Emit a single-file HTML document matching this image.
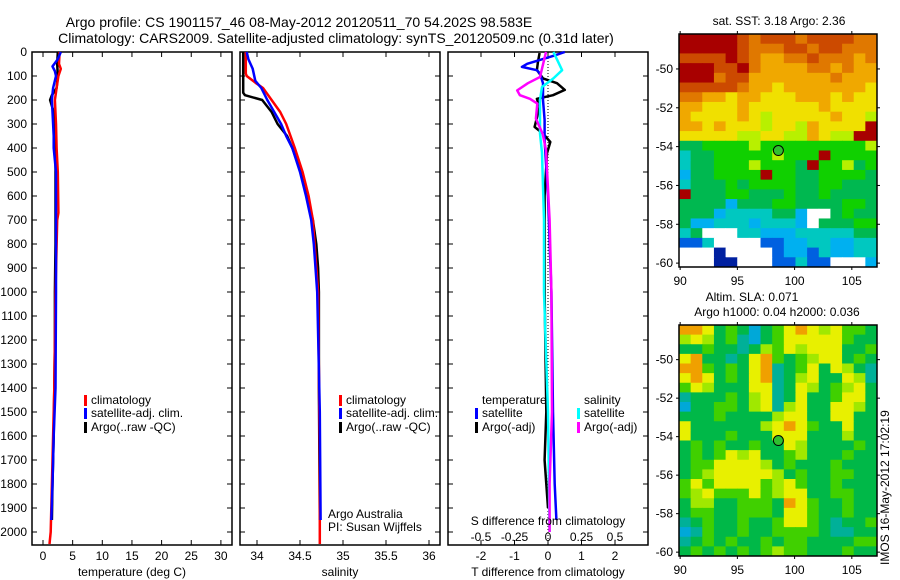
<!DOCTYPE html>
<html><head><meta charset="utf-8">
<style>
html,body{margin:0;padding:0;background:#fff;}
svg{display:block;font-family:"Liberation Sans",sans-serif;}
text{font-size:12px;fill:#000;}
</style></head>
<body>
<svg id="fig" width="900" height="580" viewBox="0 0 900 580" xmlns="http://www.w3.org/2000/svg">
<text x="299" y="27" text-anchor="middle" style="font-size:14px">Argo profile: CS 1901157_46 08-May-2012 20120511_70 54.202S 98.583E</text>
<text x="336" y="43" text-anchor="middle" style="font-size:14px">Climatology: CARS2009. Satellite-adjusted climatology: synTS_20120509.nc (0.31d later)</text>
<g id="g"></g>
</svg>
<script>
// ---- depth profile data ----
const tempClimD=[0,50,70,100,150,200,300,400,500,670,700,1000,1400,1700,2000,2050];
const tempClimV=[2.8,2.7,3.0,2.6,2.3,2.0,2.2,2.3,2.5,2.6,2.4,2.1,1.9,1.6,1.3,1.1];
const tempSatD=[0,30,60,80,100,150,200,250,350,400,500,1000,1400,1600,1800,1950];
const tempSatV=[3.0,2.5,1.6,2.0,2.2,1.7,1.5,1.6,1.8,1.8,2.2,2.2,2.1,1.8,1.6,1.4];
const tempArgoD=[0,50,100,150,180,200,250,300,350,400,500,600,800,1000,1200,1400,1600,1800,1950];
const tempArgoV=[2.5,2.4,2.5,2.3,1.5,1.2,1.8,1.8,2.0,2.1,2.1,2.1,2.1,2.0,2.0,1.9,1.8,1.6,1.5];
const salClimD=[0,90,100,130,150,200,250,300,400,500,600,700,800,1000,1700,2050];
const salClimV=[33.87,33.87,33.88,33.99,34.07,34.17,34.27,34.34,34.44,34.53,34.6,34.65,34.67,34.71,34.73,34.73];
const salSatD=[0,30,70,120,150,200,250,300,350,400,500,600,700,800,1000,1500,1950];
const salSatV=[33.88,33.9,33.95,33.98,34.05,34.12,34.2,34.28,34.34,34.41,34.5,34.57,34.63,34.66,34.7,34.73,34.74];
const salArgoD=[0,170,180,200,250,300,350,400,500,600,700,800,900,1000,1400,1950];
const salArgoV=[33.84,33.84,33.86,34.06,34.17,34.24,34.35,34.41,34.51,34.58,34.65,34.69,34.71,34.72,34.72,34.73];
const dTArgoD=[4,40,75,110,130,158,180,195,228,312,340,375,422,600,1000,1500,1700,1900];
const dTArgoV=[-0.25,-0.3,-0.33,-0.15,0.27,0.5,0.15,-0.33,-0.25,-0.4,-0.15,0.07,-0.03,-0.1,-0.1,-0.05,-0.1,0];
const dTSatD=[0,14,49,62,76,90,130,200,283,367,600,1000,1500,1800,1950];
const dTSatV=[0.5,0.2,-0.62,-0.78,-0.33,-0.24,-0.15,-0.15,-0.1,-0.1,0,0.1,0.15,0.2,0.25];
const dSSatD=[0,40,76,110,146,200,340,420,700,1000,1500,2000];
const dSSatV=[0.04,0.075,0.105,0.04,-0.045,-0.06,-0.06,-0.045,-0.03,-0.03,0,0.012];
const dSArgoD=[0,104,130,160,180,195,215,278,340,408,700,1000,1500,1800,2000];
const dSArgoV=[-0.015,-0.06,-0.15,-0.23,-0.21,-0.135,-0.08,-0.09,-0.04,-0.015,0.012,0.025,0.03,0.012,0.012];
const tempTicks=[0,5,10,15,20,25,30];
const salTicks=[34,34.5,35,35.5,36];
const tdTicks=[-2,-1,0,1,2];
const sdTicks=[-0.5,-0.25,0,0.25,0.5];
const depthTicks=[0,100,200,300,400,500,600,700,800,900,1000,1100,1200,1300,1400,1500,1600,1700,1800,1900,2000];
// ---- map data (rows from north to south, 0.5deg lat, 1deg lon) ----
const sstPalette={"0":"#a80000","1":"#cc4a00","2":"#e07800","3":"#f0a800","4":"#f0e000","5":"#b8f000","6":"#10d000","7":"#00b850","8":"#00c8c0","9":"#00b0f0","A":"#0060e0","B":"#0020a0","W":"#ffffff"};
const sstRows=["00000121112111122","00000122211211222","11110123322122232","00011023333223233","00021133333332333","11111233433333334","22334334443334344","33444344444434444","34444345444443445","33434445445344440","44444554455345500","77666656666666665","87766666566606666","87766656667066576","97766660667766667","87776766667766777","07776677767767777","77779777667777667","77798888779WW7677","79988898889W77766","87WWW889998888877","AA8WWWWAA99889988","WWWBWWWWA99A89988","WWWBBWWWAA8AAWWW9"];
const slaPalette={"O":"#f0a000","Y":"#e8f000","L":"#a0e800","G":"#40d000","D":"#00b848","T":"#00b098","C":"#00a8d8"};
const slaRows=["OOYDGDCDGYOYLYGGD","LYLDGTCDGYYYYYGDD","DDGDDTDLGYLYYYDDG","YODDTDYOGDGLYYDGD","OOGDGDYOTDGYDYLDT","YOYDGDYOTDLYDDYLT","GYLDDDYYTDYLDGLYD","TDDDGDLYTDYDDGYYD","CDDGGDLYTLYDDYYLD","DDDGDDDDLYYDDYYDD","YDDDDDDLYOYGDDYDD","YDDDGDDDYYYDDDLDD","DGDGDDGDDYLDDDDGD","DGDGYLYDDGLDDDGDD","DGGYYYYLDGDDDGDDD","DGLYYYYYLDGDDGGDD","GYGYYYYGLYGDDGDDD","GLYGGGYGLYYDDGGDD","DLLDDGGGDOYGDDGDD","DGGDDGGGDYYGDDGDD","TDGDDGDDGYYGDTDDG","CTGDDGDDGGGGDTTDD","TDGDGDDGDGGDDDDGG","DGDGDGDGLGGDDDGDD"];
const lonTicks=[90,95,100,105];
const latTicks=[-50,-52,-54,-56,-58,-60];
const argoLon=98.583, argoLat=-54.202;

const NS="http://www.w3.org/2000/svg";
const G=document.getElementById('g');
function el(tag,attrs,parent){const e=document.createElementNS(NS,tag);for(const k in attrs)e.setAttribute(k,attrs[k]);(parent||G).appendChild(e);return e;}
function txt(x,y,s,anchor,parent){const t=el('text',{x:x,y:y,'text-anchor':anchor||'start'},parent);t.textContent=s;return t;}
const yD=d=>52+d*0.24;
const xT=v=>43+v*5.93;
const xS=v=>257+(v-34)*86;
const xTd=v=>548+v*33.5;
const xSd=v=>548+v*134;

function panel(x0,name){
  const g=el('g',{});
  
  
  el('rect',{x:x0,y:52,width:200,height:493,fill:'none',stroke:'#000','stroke-width':1.5},g);
  depthTicks.forEach(d=>{const y=yD(d);
    el('line',{x1:x0,x2:x0+5,y1:y,y2:y,stroke:'#000'},g);
    el('line',{x1:x0+200,x2:x0+195,y1:y,y2:y,stroke:'#000'},g);});
  return g;
}
function xticks(g,ticks,fx,labY,fmt){
  ticks.forEach(v=>{const x=fx(v);
    el('line',{x1:x,x2:x,y1:545,y2:540,stroke:'#000'},g);
    el('line',{x1:x,x2:x,y1:52,y2:57,stroke:'#000'},g);
    if(labY){const t=txt(x,labY,fmt?fmt(v):String(v),'middle',g);}});
}
function line(g,D,V,fx,color,name,w){
  const pts=D.map((d,i)=>fx(V[i]).toFixed(1)+','+yD(d).toFixed(1)).join(' ');
  const p=el('polyline',{points:pts,fill:'none',stroke:color,'stroke-width':w||2.5,'stroke-linejoin':'round'},g);
  
  
}
function legendEntry(g,x,y,color,label){
  const e=el('g',{},g);
  
  
  el('rect',{x:x,y:y-9,width:3,height:11,fill:color},e);
  txt(x+7,y,label,'start',e);
}
depthTicks.forEach(d=>{const t=txt(27,yD(d)+4,String(d),'end');
  
  });

const p1=panel(32,'temperature-panel');
xticks(p1,tempTicks,xT,560);
line(p1,tempArgoD,tempArgoV,xT,'#000','argo-temperature-line');
line(p1,tempClimD,tempClimV,xT,'#f00','climatology-temperature-line');
line(p1,tempSatD,tempSatV,xT,'#00f','satellite-temperature-line');
legendEntry(p1,84,404,'#f00','climatology');
legendEntry(p1,84,417,'#00f','satellite-adj. clim.');
legendEntry(p1,84,431,'#000','Argo(..raw -QC)');
const a1=txt(132,576,'temperature (deg C)','middle');



const p2=panel(240,'salinity-panel');
xticks(p2,salTicks,xS,560);
line(p2,salArgoD,salArgoV,xS,'#000','argo-salinity-line');
line(p2,salClimD,salClimV,xS,'#f00','climatology-salinity-line');
line(p2,salSatD,salSatV,xS,'#00f','satellite-salinity-line');
legendEntry(p2,339,404,'#f00','climatology');
legendEntry(p2,339,417,'#00f','satellite-adj. clim.');
legendEntry(p2,339,431,'#000','Argo(..raw -QC)');
txt(328,518,'Argo Australia','start',p2);
txt(328,531,'PI: Susan Wijffels','start',p2);
const a2=txt(340,576,'salinity','middle');



const p3=panel(448,'difference-panel');
xticks(p3,tdTicks,xTd,560);
sdTicks.forEach(v=>{const t=txt(xSd(v),541,String(v),'middle',p3);
  
  });
el('line',{x1:548,x2:548,y1:52,y2:545,stroke:'#000','stroke-dasharray':'1,2'},p3);
line(p3,dTArgoD,dTArgoV,xTd,'#000','argo-t-diff-line');
line(p3,dTSatD,dTSatV,xTd,'#00f','satellite-t-diff-line');
line(p3,dSSatD,dSSatV,xSd,'#0ff','satellite-s-diff-line');
line(p3,dSArgoD,dSArgoV,xSd,'#f0f','argo-s-diff-line');
txt(482,404,'temperature','start',p3);
txt(584,404,'salinity','start',p3);
legendEntry(p3,475,417,'#00f','satellite');
legendEntry(p3,475,431,'#000','Argo(-adj)');
legendEntry(p3,577,417,'#0ff','satellite');
legendEntry(p3,577,431,'#f0f','Argo(-adj)');
txt(548,525,'S difference from climatology','middle',p3);
const a3=txt(548,576,'T difference from climatology','middle');



function map(top,bottom,rows,pal,name,labelY){
  const lonL=89.9, lonR=107.2, latT=-48.2, latB=-60.2;
  const W=198, H=bottom-top, x0=679;
  const fx=l=>x0+(l-lonL)/(lonR-lonL)*W;
  const fy=l=>top+(latT-l)/(latT-latB)*H;
  const g=el('g',{});
  
  
  const nr=rows.length;
  rows.forEach((r,i)=>{for(let j=0;j<r.length;j++){
    const la=latT-i*(latT-latB)/nr, lo=lonL+j*(lonR-lonL)/r.length;
    const x=fx(lo), y=fy(la), w=fx(lo+(lonR-lonL)/r.length)-x, h=fy(la-(latT-latB)/nr)-y;
    const c=el('rect',{x:x.toFixed(2),y:y.toFixed(2),width:(w+0.5).toFixed(2),height:(h+0.5).toFixed(2),fill:pal[r[j]]},g);
    
    
  }});
  el('rect',{x:x0,y:top,width:W,height:H,fill:'none',stroke:'#000','stroke-width':1.5},g);
  lonTicks.forEach(l=>{const x=fx(l);
    el('line',{x1:x,x2:x,y1:bottom,y2:bottom+3,stroke:'#000'},g);
    el('line',{x1:x,x2:x,y1:top,y2:top-3,stroke:'#000'},g);
    txt(x,labelY,String(l),'middle',g);});
  latTicks.forEach(l=>{const y=fy(l);
    el('line',{x1:x0,x2:x0-3,y1:y,y2:y,stroke:'#000'},g);
    el('line',{x1:x0+W,x2:x0+W+3,y1:y,y2:y,stroke:'#000'},g);
    txt(673,y+4,String(l),'end',g);});
  const m=el('circle',{cx:fx(argoLon),cy:fy(argoLat),r:5,fill:'#30c030',stroke:'#000','stroke-width':1},g);
  
  
}
map(34,267,sstRows,sstPalette,'sst-map',285);
map(325,556,slaRows,slaPalette,'sla-map',574);
txt(779,25,'sat. SST: 3.18 Argo: 2.36','middle');
txt(752,301,'Altim. SLA: 0.071','middle');
txt(777,316,'Argo h1000: 0.04 h2000: 0.036','middle');
const st=txt(0,0,'IMOS 16-May-2012 17:02:19','start');
st.setAttribute('transform','translate(889,565) rotate(-90)');


</script>
</body></html>
